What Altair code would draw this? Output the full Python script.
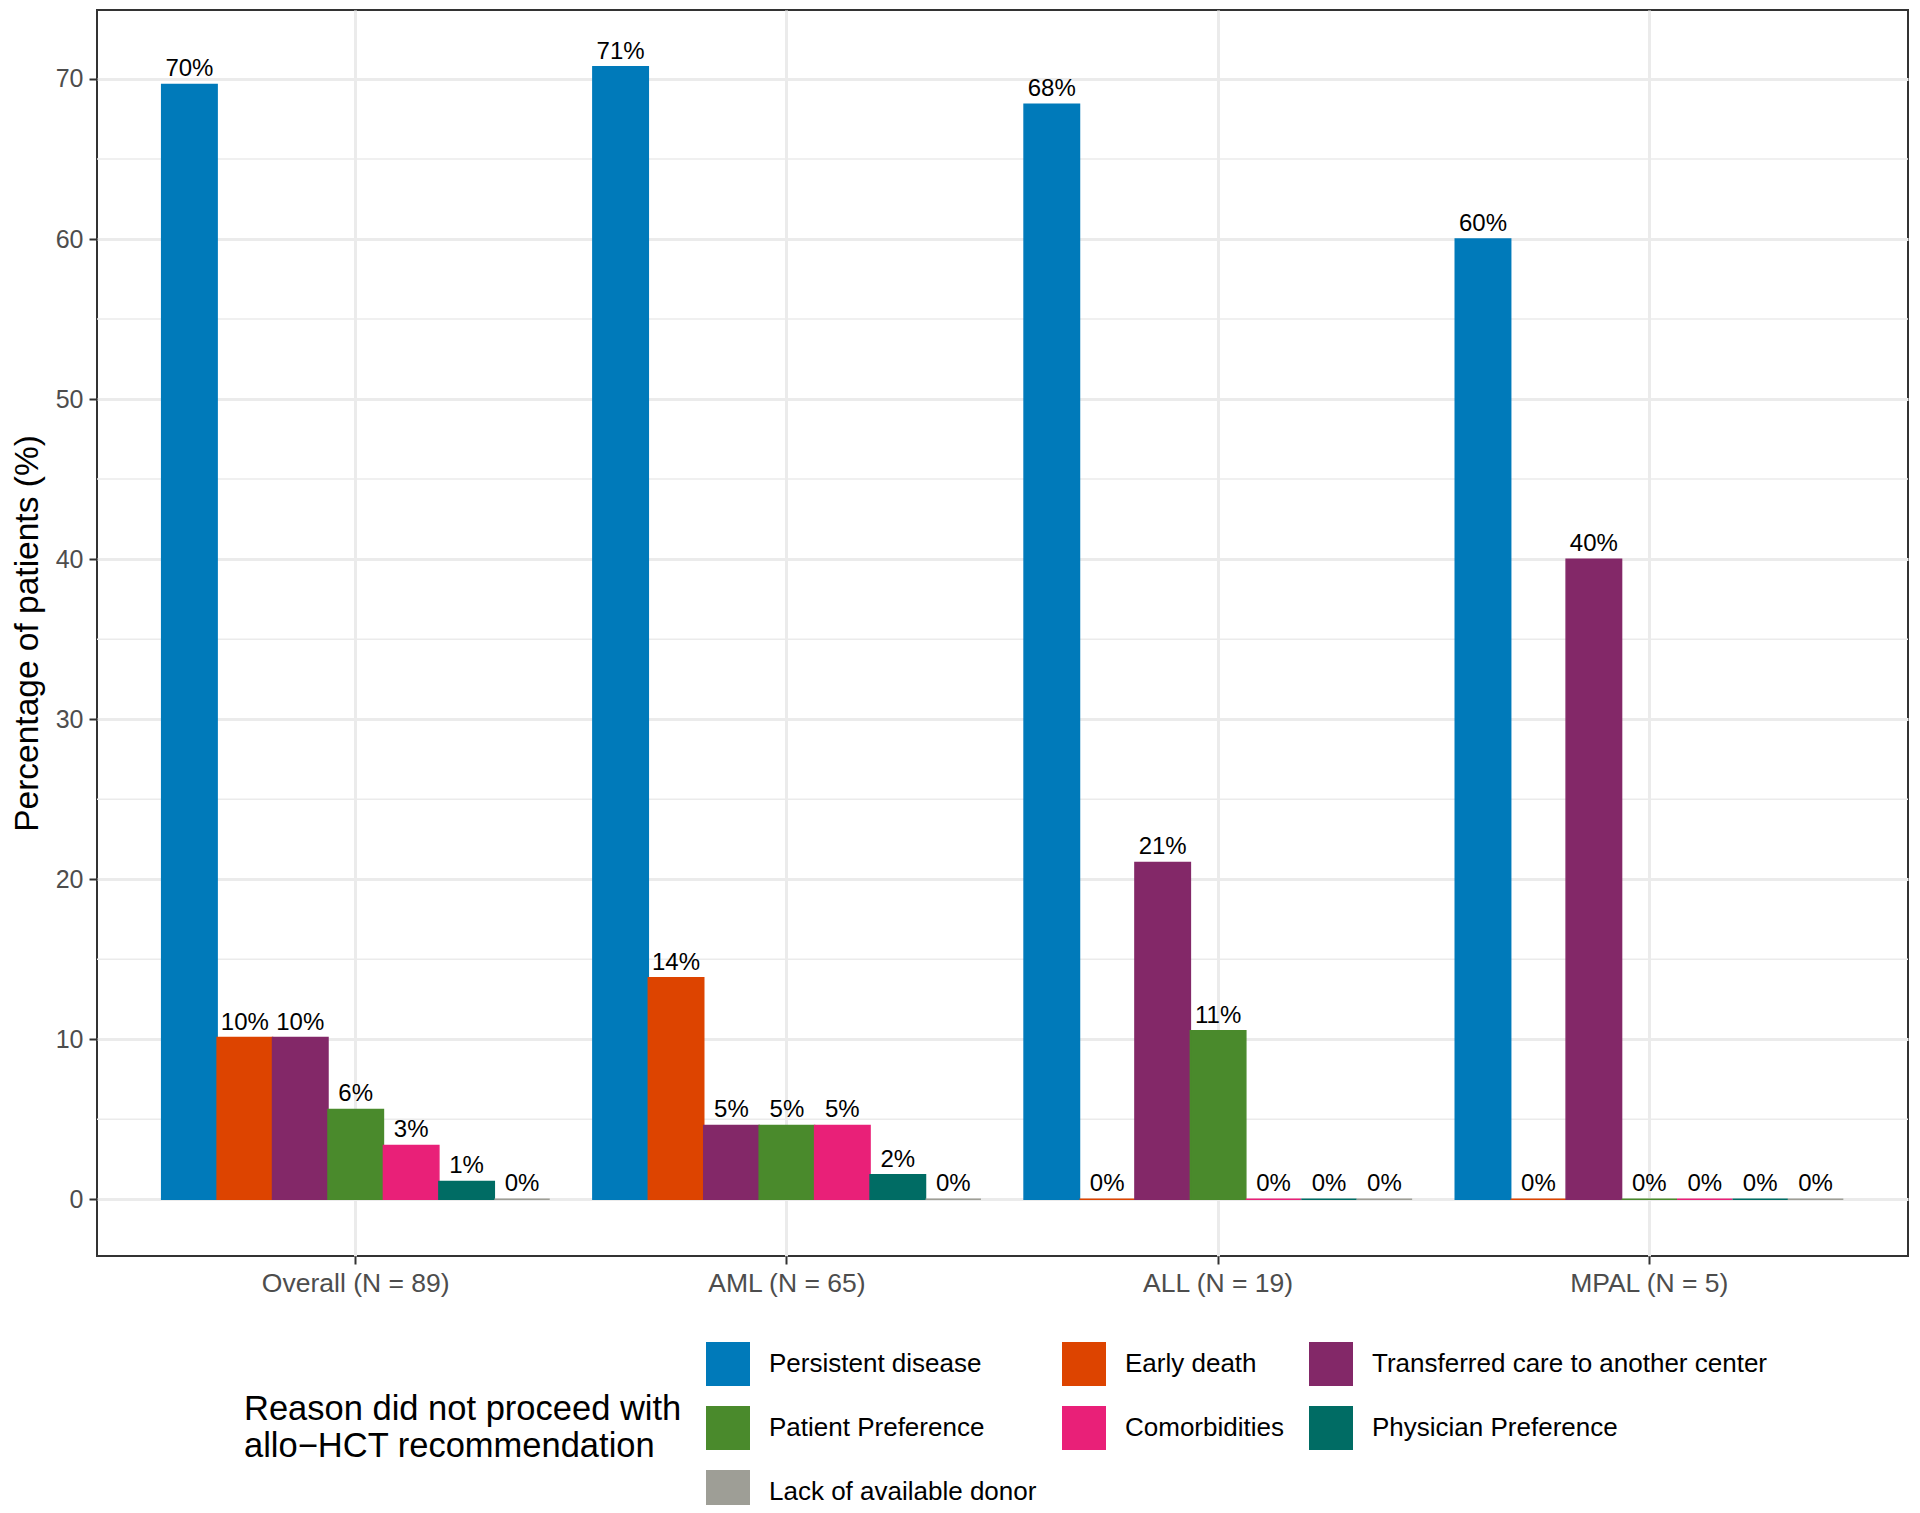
import altair as alt
import pandas as pd

groups = ["Overall (N = 89)", "AML (N = 65)", "ALL (N = 19)", "MPAL (N = 5)"]
reasons = [
    "Persistent disease",
    "Early death",
    "Transferred care to another center",
    "Patient Preference",
    "Comorbidities",
    "Physician Preference",
    "Lack of available donor",
]
colors = ["#007ABA", "#DD4400", "#832868", "#4A8A2C", "#E92078", "#006C64", "#9E9E96"]

# percentage of patients per group, one list per reason (order of `groups`)
persistent_disease = [69.66, 70.77, 68.42, 60.0]
early_death = [10.11, 13.85, 0.0, 0.0]
transferred_care = [10.11, 4.62, 21.05, 40.0]
patient_preference = [5.62, 4.62, 10.53, 0.0]
comorbidities = [3.37, 4.62, 0.0, 0.0]
physician_preference = [1.12, 1.54, 0.0, 0.0]
lack_of_donor = [0.0, 0.0, 0.0, 0.0]

major_ticks = [0, 10, 20, 30, 40, 50, 60, 70]
minor_grid = [5, 15, 25, 35, 45, 55, 65]
y_domain = [-3.54, 74.31]

series = [persistent_disease, early_death, transferred_care, patient_preference,
          comorbidities, physician_preference, lack_of_donor]
rows = []
for r, vals in zip(reasons, series):
    for g, v in zip(groups, vals):
        rows.append({"group": g, "reason": r, "value": v})
df = pd.DataFrame(rows)
minor_df = pd.DataFrame({"value": minor_grid})

FONT = "Liberation Sans"

yscale = alt.Scale(domain=y_domain, nice=False, zero=False)
y_enc = alt.Y(
    "value:Q",
    scale=yscale,
    stack=None,
    axis=alt.Axis(
        values=major_ticks,
        title="Percentage of patients (%)",
        titleFontSize=33.5,
        titleFontWeight="normal",
        titleColor="black",
        titleAngle=270,
        titleX=-60,
        titleY=623,
        titleAlign="center",
        titleBaseline="alphabetic",
        labelFontSize=25,
        labelPadding=6,
        grid=True,
    ),
)
x_enc = alt.X(
    "group:N",
    sort=groups,
    scale=alt.Scale(paddingInner=0.1, paddingOuter=0.15),
    axis=alt.Axis(
        title=None,
        labelFontSize=26.5,
        labelAngle=0,
        labelPadding=6,
        labelLimit=500,
        grid=True,
        bandPosition=0.5,
    ),
)
xo_enc = alt.XOffset("reason:N", sort=reasons,
                     scale=alt.Scale(domain=reasons, paddingInner=0, paddingOuter=0))

minor = alt.Chart(minor_df).mark_rule(color="#EBEBEB", strokeWidth=1.5).encode(y=y_enc)

bars = alt.Chart(df).mark_bar(strokeWidth=1.5).encode(
    x=x_enc,
    xOffset=xo_enc,
    y=y_enc,
    y2=alt.datum(0),
    color=alt.Color(
        "reason:N",
        sort=reasons,
        scale=alt.Scale(domain=reasons, range=colors),
        legend=alt.Legend(
            orient="none",
            direction="horizontal",
            legendX=147,
            legendY=1332,
            columns=3,
            title=["Reason did not proceed with", "allo\u2212HCT recommendation"],
            titleOrient="left",
            titleAnchor="middle",
            titleBaseline="middle",
            titleFontSize=34.5,
            titleFontWeight="normal",
            titleColor="black",
            titleLineHeight=37,
            titlePadding=24,
            titleLimit=1000,
            labelFontSize=26,
            labelColor="black",
            labelLimit=1000,
            labelOffset=19,
            symbolType="square",
            symbolSize=1936,
            symbolStrokeWidth=0,
            symbolOpacity=1,
            rowPadding=20,
            columnPadding=25,
            padding=0,
        ),
    ),
    stroke=alt.Stroke("reason:N", sort=reasons,
                      scale=alt.Scale(domain=reasons, range=colors), legend=None),
)

labels = alt.Chart(df).transform_calculate(
    label="format(datum.value, '.0f') + '%'"
).mark_text(dy=-8, baseline="alphabetic", fontSize=24, color="black", font=FONT).encode(
    x=x_enc,
    xOffset=xo_enc,
    y=y_enc,
    text="label:N",
)

chart = alt.layer(minor, bars, labels).properties(
    width=1811,
    height=1246,
    padding={"left": 89, "top": 2, "right": 4, "bottom": 249},
    autosize=alt.AutoSizeParams(type="none"),
).configure(
    font=FONT,
).configure_view(
    stroke="#333333",
    strokeWidth=2,
).configure_axis(
    gridColor="#EBEBEB",
    gridWidth=3,
    domain=False,
    tickColor="#333333",
    tickWidth=2,
    tickSize=8,
    labelColor="#4D4D4D",
    labelFont=FONT,
    titleFont=FONT,
).configure_legend(
    labelFont=FONT,
    titleFont=FONT,
)

chart.save("out.html", embed_options={"renderer": "svg", "actions": False})
